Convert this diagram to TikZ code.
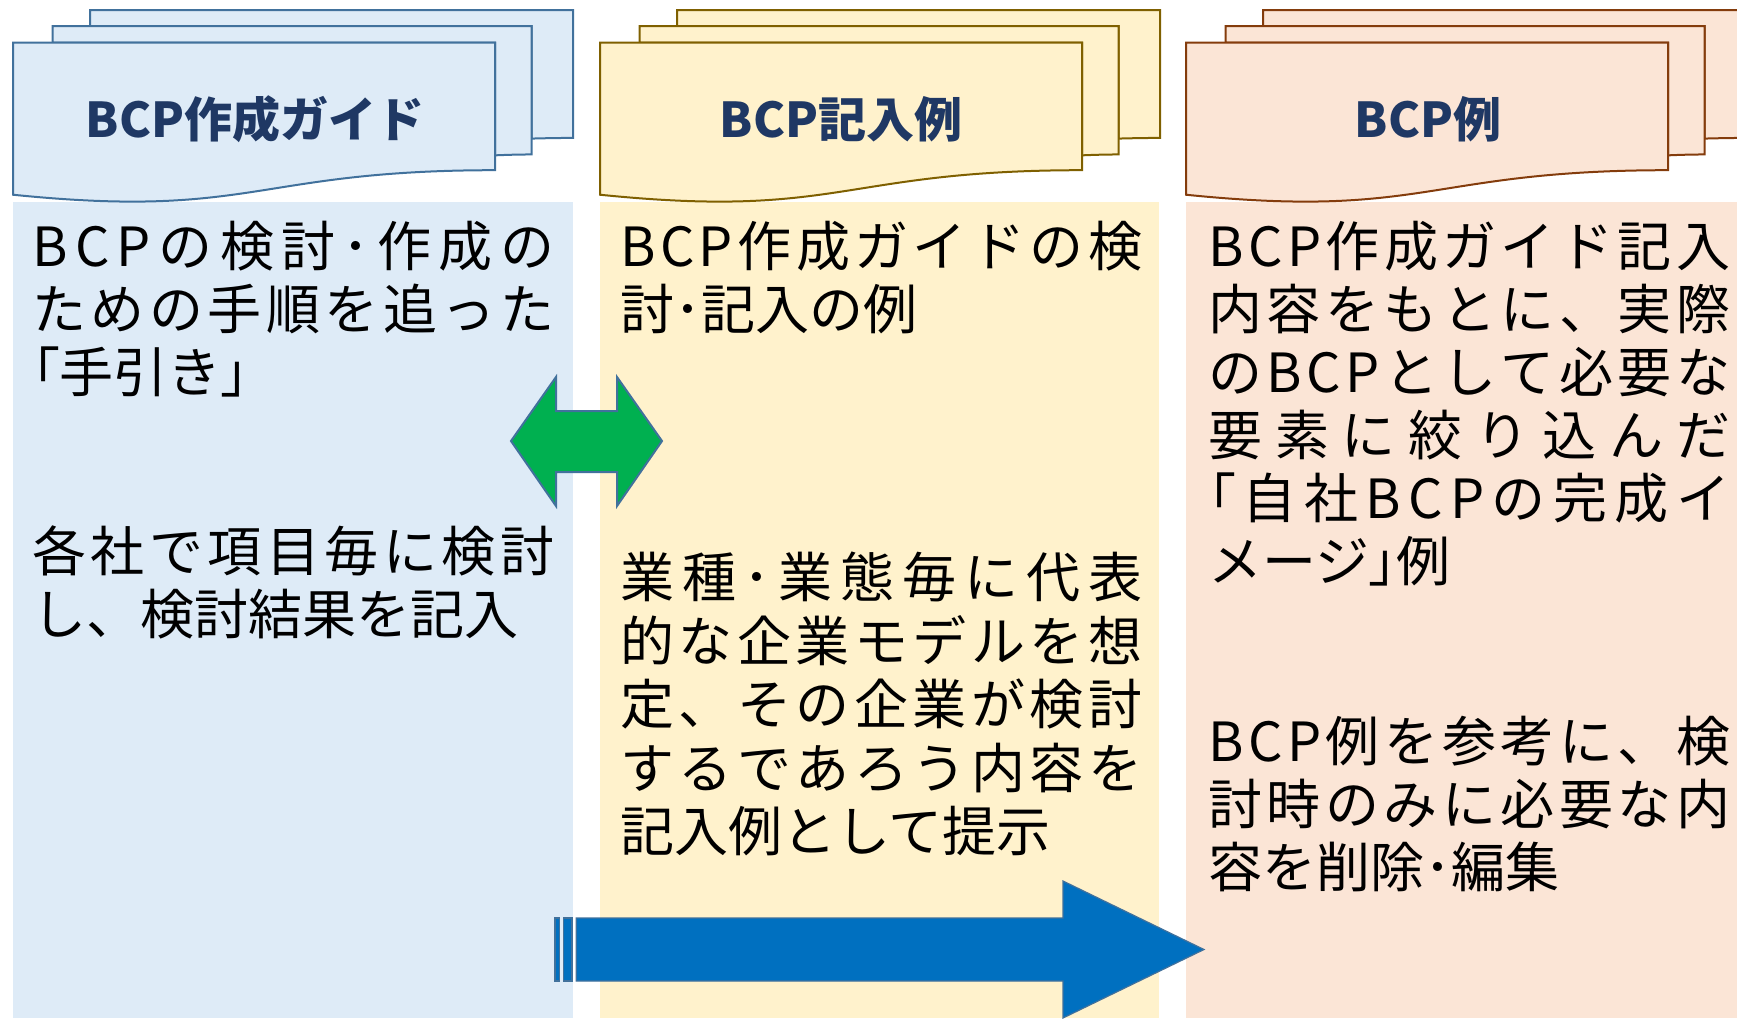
\documentclass[tikz,border=0pt]{standalone}
\usepackage{fontspec}
\setmainfont{Noto Sans CJK JP}
\definecolor{fillA}{HTML}{DEEBF7}
\definecolor{lineA}{HTML}{41719C}
\definecolor{fillB}{HTML}{FFF2CC}
\definecolor{lineB}{HTML}{7F6000}
\definecolor{fillC}{HTML}{FBE5D6}
\definecolor{lineC}{HTML}{843C0C}
\definecolor{titleblue}{HTML}{1F3864}
\definecolor{arrgreen}{HTML}{00B050}
\definecolor{arrblue}{HTML}{0070C0}
\newlength\jw
\setlength\jw{522pt}
\newcommand\pa[1]{{\addfontfeature{RawFeature=+palt}#1}}
\def\LB{\pa{「}}
\def\RB{\pa{」}}
\makeatletter
\def\spr@endmark{\spr@end}
\def\spr@first#1{#1\spr@rest}
\def\spr@rest#1{\def\spr@tmp{#1}\ifx\spr@tmp\spr@endmark\else\hfill#1\expandafter\spr@rest\fi}
\newcommand\jl[1]{\makebox[\jw][s]{\spr@first#1\spr@end}}
\makeatother
\newcommand\docstack[4]{%
\begin{scope}[shift={(#1,#2)},x=2.592593pt,y=-0.888889pt,line width=2pt,fill=#3,draw=#4,line join=miter]
\filldraw (29.72,18.15) -- (29.72,0) -- (216,0) -- (216,143.92) .. controls (208,143.92) and (200,144.67) .. (200,144.67) -- (200,18.15) -- cycle;
\filldraw (15.32,36.75) -- (15.32,18.15) -- (200,18.15) -- (200,162.52) .. controls (192.98,162.52) and (185.95,163.52) .. (185.95,163.52) -- (185.95,36.75) -- cycle;
\filldraw (0,207.82) .. controls (92.98,235.42) and (92.98,180.22) .. (185.95,180.22) -- (185.95,36.75) -- (0,36.75) -- cycle;
\end{scope}}
\begin{document}
\begin{tikzpicture}[x=1pt,y=-1pt,
  body/.style={anchor=base west,inner sep=0pt,font=\fontsize{54}{63}\selectfont},
  ttl/.style={anchor=base,inner sep=0pt,text=titleblue,font=\fontsize{48}{56}\selectfont\bfseries},
  garrow/.style={fill=arrgreen,draw=lineA,line width=2pt,line join=miter},
  barrow/.style={fill=arrblue,draw=lineA,line width=1.2pt,line join=miter}]
\useasboundingbox (0,0) rectangle (1737,1018);
\clip (0,0) rectangle (1737,1018);
% columns
\fill[fillA] (13,202) rectangle (573,1018);
\fill[fillB] (600,202) rectangle (1159,1018);
\fill[fillC] (1186,202) rectangle (1737,1018);
% header stacks
\docstack{13}{10}{fillA}{lineA}
\docstack{600}{10}{fillB}{lineB}
\docstack{1186}{10}{fillC}{lineC}
% titles
\node[ttl] (t1) at (255,137) {BCP作成ガイド};
\node[ttl] (t2) at (841,137) {BCP記入例};
\node[ttl] (t3) at (1428,137) {BCP例};
% column 1
\node[body] (a1) at (32,266.5) {\jl{BCPの検討･作成の}};
\node[body] (a2) at (32,329.5) {\jl{ための手順を追った}};
\node[body] (a3) at (32,392.5) {\LB 手引き\RB};
\node[body] (a4) at (32,571.5) {\jl{各社で項目毎に検討}};
\node[body] (a5) at (32,634.5) {し、検討結果を記入};
% column 2
\node[body] (b1) at (620,266.5) {\jl{BCP作成ガイドの検}};
\node[body] (b2) at (620,329.5) {討･記入の例};
\node[body] (b3) at (620,597.5) {\jl{業種･業態毎に代表}};
\node[body] (b4) at (620,661) {\jl{的な企業モデルを想}};
\node[body] (b5) at (620,724.5) {\jl{定、その企業が検討}};
\node[body] (b6) at (620,788) {\jl{するであろう内容を}};
\node[body] (b7) at (620,851.5) {記入例として提示};
% column 3
\node[body] (c1) at (1208,266.5) {\jl{BCP作成ガイド記入}};
\node[body] (c2) at (1208,329.5) {\jl{内容をもとに、実際}};
\node[body] (c3) at (1208,392.5) {\jl{のBCPとして必要な}};
\node[body] (c4) at (1208,455.5) {\jl{要素に絞り込んだ}};
\node[body] (c5) at (1208,518.5) {\jl{\LB 自社BCPの完成イ}};
\node[body] (c6) at (1208,581.5) {メージ\RB 例};
\node[body] (c7) at (1208,761.5) {\jl{BCP例を参考に、検}};
\node[body] (c8) at (1208,824.5) {\jl{討時のみに必要な内}};
\node[body] (c9) at (1208,887.5) {容を削除･編集};
% green double arrow
\draw[garrow] (511,441) -- (556,377) -- (556,411) -- (617,411) -- (617,377) -- (662,441)
  -- (617,506) -- (617,472) -- (556,472) -- (556,506) -- cycle;
% blue striped arrow
\draw[barrow] (555,918) rectangle (559.25,981);
\draw[barrow] (563.5,918) rectangle (572,981);
\draw[barrow] (576.25,918) -- (1063,918) -- (1063,881) -- (1204,949.5) -- (1063,1018) -- (1063,981) -- (576.25,981) -- cycle;
\end{tikzpicture}
\end{document}
